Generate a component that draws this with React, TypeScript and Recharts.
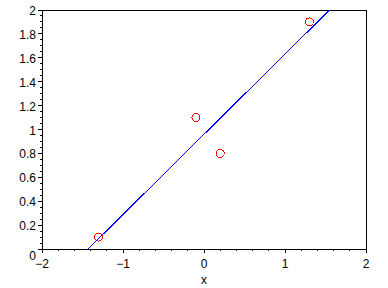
import { ScatterChart, Scatter, XAxis, YAxis, ReferenceLine } from 'recharts'

// measured points (red circles)
const pointX = [-1.3, -0.1, 0.2, 1.3]
const pointY = [0.1, 1.1, 0.8, 1.9]

// fitted line end points (blue)
const lineX = [-1.43, 1.55]
const lineY = [0, 2]

const xMajor = [-2, -1, 0, 1, 2]
const yMajor = [0, 0.2, 0.4, 0.6, 0.8, 1, 1.2, 1.4, 1.6, 1.8, 2]

const points = pointX.map((x, i) => ({ x, y: pointY[i] }))
const line = lineX.map((x, i) => ({ x, y: lineY[i] }))

// minor ticks between majors
const subdivide = (major: number[], parts: number) => {
  const out: number[] = []
  for (let i = 0; i < major.length - 1; i++) {
    const step = (major[i + 1] - major[i]) / parts
    for (let k = 0; k < parts; k++) out.push(Math.round((major[i] + step * k) * 1000) / 1000)
  }
  out.push(major[major.length - 1])
  return out
}
const xTicks = subdivide(xMajor, 5)
const yTicks = subdivide(yMajor, 4)

const FONT = '"Liberation Sans", Arial, sans-serif'

const XTick = (props: any) => {
  const { x, y, payload } = props
  const major = xMajor.includes(payload.value)
  return (
    <g>
      <line x1={x} x2={x} y1={y} y2={y + (major ? 4 : 2)} stroke="#000" />
      {major && (
        <text x={x} y={y + 19} textAnchor="middle" fontSize={12} fontFamily={FONT} fill="#000">
          {payload.value < 0 ? '\u2212' + Math.abs(payload.value) : payload.value}
        </text>
      )}
    </g>
  )
}

const YTick = (props: any) => {
  const { x, y, payload } = props
  const major = yMajor.includes(payload.value)
  return (
    <g>
      <line x1={x} x2={x - (major ? 4 : 2)} y1={y} y2={y} stroke="#000" />
      {major && (
        <text x={x - 6} y={y + (payload.value === 0 ? 11 : 5)} textAnchor="end" fontSize={12} fontFamily={FONT} fill="#000">
          {payload.value}
        </text>
      )}
    </g>
  )
}

const Ring = (props: any) => (
  <circle cx={props.cx} cy={props.cy} r={4} fill="none" stroke="#ff0000" strokeWidth={1} />
)

export default function App() {
  return (
    <div style={{ position: 'absolute', left: 0, top: 0, width: 388, height: 288, background: '#fff' }}>
      <ScatterChart
        width={388}
        height={288}
        margin={{ top: 10, right: 22, bottom: 0, left: 0 }}
        style={{ shapeRendering: 'crispEdges' }}
      >
        <XAxis
          type="number"
          dataKey="x"
          domain={[-2, 2]}
          ticks={xTicks}
          interval={0}
          height={39}
          tickSize={0}
          tickMargin={0}
          tickLine={false}
          axisLine={{ stroke: '#000' }}
          tick={XTick}
          label={{ value: 'x', position: 'insideBottom', offset: 4, fontSize: 12, fontFamily: FONT, fill: '#000' }}
        />
        <YAxis
          type="number"
          dataKey="y"
          domain={[0, 2]}
          ticks={yTicks}
          interval={0}
          width={42}
          tickSize={0}
          tickMargin={0}
          tickLine={false}
          axisLine={{ stroke: '#000' }}
          tick={YTick}
        />
        <ReferenceLine y={2} stroke="#000" />
        <ReferenceLine x={2} stroke="#000" />
        <Scatter data={points} shape={Ring} isAnimationActive={false} />
        <Scatter
          data={line}
          line={{ stroke: '#0000ff', strokeWidth: 1 }}
          shape={() => <g />}
          isAnimationActive={false}
        />
      </ScatterChart>
    </div>
  )
}
